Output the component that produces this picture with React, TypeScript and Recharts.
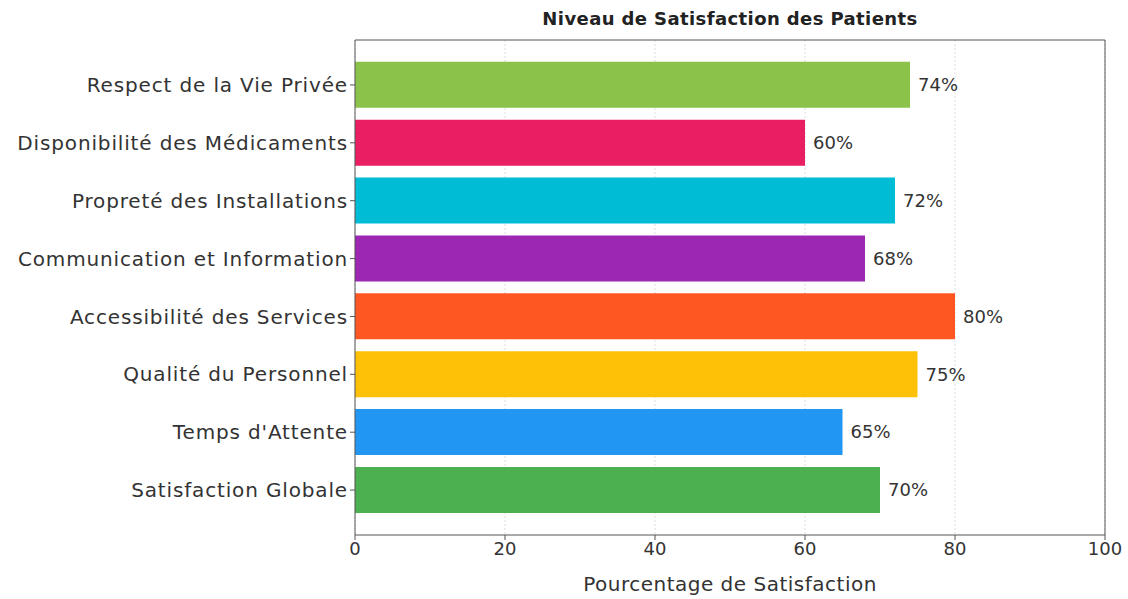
import { Bar, BarChart, CartesianGrid, Cell, LabelList, XAxis, YAxis } from "recharts";

const categories = [
  "Respect de la Vie Privée",
  "Disponibilité des Médicaments",
  "Propreté des Installations",
  "Communication et Information",
  "Accessibilité des Services",
  "Qualité du Personnel",
  "Temps d'Attente",
  "Satisfaction Globale",
];
const scores = [74, 60, 72, 68, 80, 75, 65, 70];
const barColors = [
  "#8BC34A",
  "#E91E63",
  "#00BCD4",
  "#9C27B0",
  "#FF5722",
  "#FFC107",
  "#2196F3",
  "#4CAF50",
];
const xTicks = [0, 20, 40, 60, 80, 100];

const FONT = "'DejaVu Sans', sans-serif";
const TEXT = "#333333";
const FRAME = "#555555";

export default function App() {
  const data = categories.map((name, i) => ({ name, score: scores[i] }));

  return (
    <div style={{ position: "absolute", left: 0, top: 0, background: "#fff", fontFamily: FONT }}>
      <BarChart
        width={1128}
        height={599}
        data={data}
        layout="vertical"
        barCategoryGap="10%"
        margin={{ top: 39, right: 22, bottom: 0, left: 0 }}
      >
        <CartesianGrid horizontal={false} stroke="#dddddd" strokeDasharray="2 2" />
        <XAxis
          type="number"
          dataKey="score"
          domain={[0, 100]}
          ticks={xTicks}
          height={64}
          stroke={FRAME}
          tickSize={5}
          tick={{ fill: TEXT, fontSize: 18, fontFamily: FONT }}
          label={{
            value: "Pourcentage de Satisfaction",
            position: "insideBottom",
            offset: 8,
            fill: TEXT,
            fontSize: 20,
            letterSpacing: 0.5,
            fontFamily: FONT,
          }}
        />
        <XAxis
          xAxisId="top"
          orientation="top"
          type="number"
          domain={[0, 100]}
          ticks={xTicks}
          height={1}
          stroke={FRAME}
          tick={false}
          tickLine={false}
          label={{
            value: "Niveau de Satisfaction des Patients",
            position: "top",
            offset: 14,
            fill: "#222222",
            fontSize: 18,
            fontWeight: 600,
            letterSpacing: 0.4,
            fontFamily: FONT,
          }}
        />
        <YAxis
          type="category"
          dataKey="name"
          width={355}
          stroke={FRAME}
          tickSize={5}
          padding={{ top: 16, bottom: 16 }}
          tick={{ fill: TEXT, fontSize: 20, letterSpacing: 0.85, fontFamily: FONT }}
          interval={0}
        />
        <YAxis
          yAxisId="right"
          orientation="right"
          type="category"
          dataKey="name"
          width={1}
          stroke={FRAME}
          tick={false}
          tickLine={false}
        />
        <Bar dataKey="score" isAnimationActive={false}>
          {data.map((d, i) => (
            <Cell key={d.name} fill={barColors[i]} />
          ))}
          <LabelList
            dataKey="score"
            position="right"
            offset={8}
            formatter={(v: number) => `${v}%`}
            style={{ fill: TEXT, fontSize: 18, fontFamily: FONT }}
          />
        </Bar>
      </BarChart>
    </div>
  );
}
